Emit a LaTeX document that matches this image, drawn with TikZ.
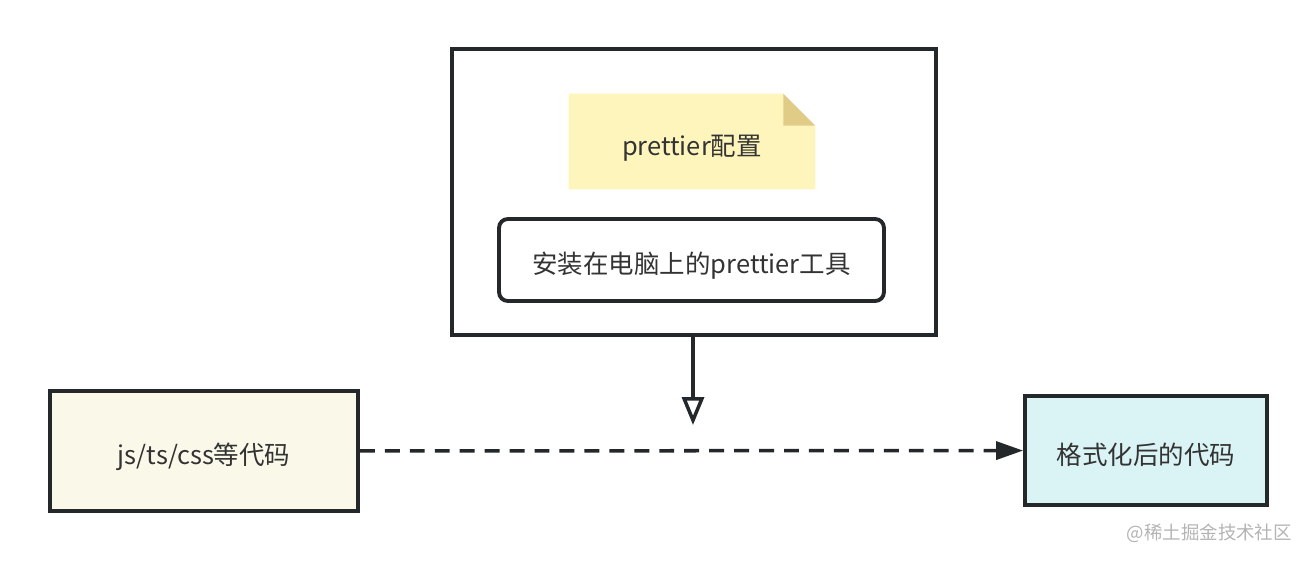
\documentclass[tikz,border=0pt]{standalone}
\usepackage{fontspec}
\newfontfamily\cjk{Noto Sans CJK SC}
\usepackage{tikz}
\usetikzlibrary{arrows.meta,positioning}
\definecolor{linegray}{HTML}{24282B}
\definecolor{textgray}{HTML}{333333}
\definecolor{noteyellow}{HTML}{FEF5BC}
\definecolor{notefold}{HTML}{E0CC87}
\definecolor{codeyellow}{HTML}{FAF9E9}
\definecolor{resultcyan}{HTML}{DAF3F5}
\definecolor{markgray}{HTML}{B4B4B4}

\begin{document}
\begin{tikzpicture}[
    x=0.02cm, y=-0.02cm,
    font=\cjk\fontsize{14.5}{17}\selectfont,
    text=textgray,
    caption/.style={
		text height=16pt,
		text depth=0.4pt
	},
    block/.style={
		caption,
		rectangle,
		draw=linegray,
		line width=2.2pt,
		text centered,
		inner sep=0pt
	},
	tool/.style={
		block,
		rounded corners=5pt,
		minimum width=7.7cm,
		minimum height=1.64cm,
		fill=white
	},
	note/.style={
		rectangle,
		inner sep=0pt,
		minimum width=4.92cm,
		minimum height=1.9cm
	},
	flow/.style={
		draw=linegray,
		line width=2pt,
		dash pattern=on 8.5pt off 5.7pt,
		-{Triangle[length=0.54cm,width=0.36cm]}
	},
	install/.style={
		draw=linegray,
		line width=2pt,
		-{Triangle[open,length=0.56cm,width=0.44cm,line width=2pt]}
	}
  ]
  \useasboundingbox (0,0) rectangle (1316,561);
    % We start by placing the blocks

  \node [block, minimum width=9.68cm, minimum height=5.72cm] (machine) at (694,192) {};

  \node [note] (config) at (692,141.5) {};
  \fill [noteyellow] (config.south west) -- (config.north west)
        -- ([xshift=-0.64cm]config.north east) -- ([yshift=-0.64cm]config.north east)
        -- (config.south east) -- cycle;
  \fill [notefold] ([xshift=-0.64cm]config.north east) -- ([yshift=-0.64cm]config.north east)
        -- ([xshift=-0.64cm,yshift=-0.64cm]config.north east) -- cycle;
  \node [caption] at (config) {prettier配置};

  \node [tool] (prettier) at (691.5,260) {安装在电脑上的prettier工具};

  \node [block, fill=codeyellow, minimum width=6.16cm, minimum height=2.4cm] (source) at (204,451) {js/ts/css等代码};

  \node [block, fill=resultcyan, minimum width=4.84cm, minimum height=2.18cm] (result) at (1146,450.5) {格式化后的代码};

  \coordinate (apply) at (693,425);

 \draw [flow] (source) -- (result);
 \draw [install] (machine.south -| apply) -- (apply);

 \node [text=markgray, font=\cjk\fontsize{10.5}{13}\selectfont, anchor=east] (mark) at (1298,533) {@稀土掘金技术社区};

\end{tikzpicture}
\end{document}
